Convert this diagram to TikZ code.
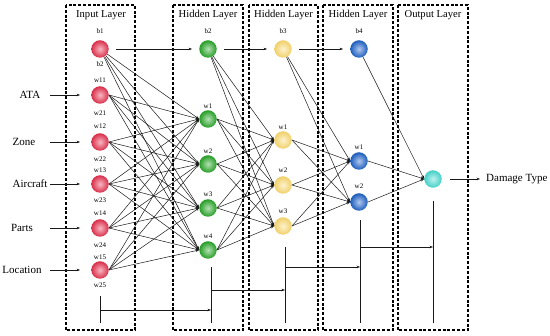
\documentclass[tikz,border=0pt]{standalone}
\usepackage{fontspec}
\setmainfont{Liberation Serif}
\usetikzlibrary{arrows.meta}
\definecolor{cred}{RGB}{235,50,80}
\definecolor{cgreen}{RGB}{40,170,40}
\definecolor{cyellow}{RGB}{248,215,110}
\definecolor{cblue}{RGB}{30,100,205}
\definecolor{ccyan}{RGB}{70,215,205}
\begin{document}
\begin{tikzpicture}[x=1pt,y=-1pt,
  neuron/.style={circle,minimum size=17.5pt,inner sep=0pt,shading=radial},
  nred/.style={neuron,inner color=cred!35!white,outer color=cred!92!black},
  ngreen/.style={neuron,inner color=cgreen!35!white,outer color=cgreen!92!black},
  nyellow/.style={neuron,inner color=cyellow!35!white,outer color=cyellow!97!black},
  nblue/.style={neuron,inner color=cblue!35!white,outer color=cblue!92!black},
  ncyan/.style={neuron,inner color=ccyan!35!white,outer color=ccyan!97!black},
  layerbox/.style={draw,line width=1.1pt,dash pattern=on 3pt off 1.8pt},
  conn/.style={-{Stealth[length=3.5pt,width=2.6pt]},line width=0.5pt,black!90},
  plain/.style={line width=0.5pt,black!90},
  wl/.style={font=\fontsize{7}{8}\selectfont,inner sep=0pt},
  tl/.style={font=\fontsize{10.6}{12}\selectfont,inner sep=0pt},
  il/.style={font=\fontsize{11}{12}\selectfont,inner sep=0pt}
]
\useasboundingbox (0,0) rectangle (550,336);
% layer boxes
\draw[layerbox] (66,5) rectangle (135,330);
\draw[layerbox] (173,5) rectangle (243,330);
\draw[layerbox] (249,5) rectangle (318,330);
\draw[layerbox] (323,5) rectangle (393,330);
\draw[layerbox] (398,5) rectangle (468,330);
\node[tl] (t0) at (101,15) {Input Layer};
\node[tl] (t1) at (208,15) {Hidden Layer};
\node[tl] (t2) at (283.5,15) {Hidden Layer};
\node[tl] (t3) at (358,15) {Hidden Layer};
\node[tl] (t4) at (433,15) {Output Layer};
% input neurons
\foreach \n/\y in {0/49,1/95,2/142,3/184,4/228,5/270}
  \node[nred] (i\n) at (100,\y) {};
% hidden 1
\foreach \n/\y in {0/49,1/119,2/164,3/208,4/250}
  \node[ngreen] (h\n) at (208,\y) {};
% hidden 2
\foreach \n/\y in {0/49,1/140,2/185,3/226}
  \node[nyellow] (g\n) at (283,\y) {};
% hidden 3
\foreach \n/\y in {0/49,1/161,2/202}
  \node[nblue] (k\n) at (359,\y) {};
% output
\node[ncyan] (o) at (433,179) {};
% small labels
\node[wl] (lb1) at (100,31) {b1};
\node[wl] (lb2) at (100,64) {b2};
\node[wl] (lw11) at (100,80) {w11};
\node[wl] (lw21) at (100,113) {w21};
\node[wl] (lw12) at (100,126) {w12};
\node[wl] (lw22) at (100,159) {w22};
\node[wl] (lw13) at (100,170) {w13};
\node[wl] (lw23) at (100,200) {w23};
\node[wl] (lw14) at (100,213) {w14};
\node[wl] (lw24) at (100,245) {w24};
\node[wl] (lw15) at (100,257) {w15};
\node[wl] (lw25) at (100,285) {w25};
\node[wl] (hb) at (208,31) {b2};
\node[wl] (hw1) at (208,106) {w1};
\node[wl] (hw2) at (208,151) {w2};
\node[wl] (hw3) at (208,194) {w3};
\node[wl] (hw4) at (208,236) {w4};
\node[wl] (gb) at (283,31) {b3};
\node[wl] (gw1) at (283,127) {w1};
\node[wl] (gw2) at (283,170) {w2};
\node[wl] (gw3) at (283,211) {w3};
\node[wl] (kb) at (359,31) {b4};
\node[wl] (kw1) at (359,147) {w1};
\node[wl] (kw2) at (359,186) {w2};
% input names
\node[il] (ata) at (30,95) {ATA};
\node[il] (zone) at (24,142) {Zone};
\node[il] (air) at (30,184) {Aircraft};
\node[il] (parts) at (22,228) {Parts};
\node[il] (loc) at (22,270) {Location};
\foreach \n in {1,...,5}
  \draw[conn] ([xshift=-41pt]i\n.west) -- ([xshift=-11pt]i\n.west);
% bias arrows
\draw[conn,shorten <=7pt,shorten >=7pt] (i0.east) -- (h0.west);
\draw[conn,shorten <=7pt,shorten >=7pt] (h0.east) -- (g0.west);
\draw[conn,shorten <=7pt,shorten >=7pt] (g0.east) -- (k0.west);
% weights
\foreach \d in {1,...,4}{
  \draw[conn] (i0) -- (h\d.west);
  \foreach \s in {1,...,5} \draw[conn] (i\s.east) -- (h\d.west);
}
\foreach \d in {1,...,3}{
  \draw[conn] (h0) -- (g\d.west);
  \foreach \s in {1,...,4} \draw[conn] (h\s.east) -- (g\d.west);
}
\foreach \d in {1,2}{
  \draw[conn] (g0) -- (k\d.west);
  \foreach \s in {1,...,3} \draw[conn] (g\s.east) -- (k\d.west);
}
\draw[conn] (k0) -- (o.west);
\draw[conn] (k1.east) -- (o.west);
\draw[conn] (k2.east) -- (o.west);
% output
\node[il,anchor=west] (dt) at (486,179) {Damage Type};
\draw[conn] ([xshift=8pt]o.east) -- ([xshift=-6pt]dt.west);
% bottom flow
\coordinate (v0a) at (100,296); \coordinate (v0b) at (100,323);
\coordinate (v1a) at (211,267); \coordinate (v1b) at (211,323);
\coordinate (v2a) at (285,247); \coordinate (v2b) at (285,323);
\coordinate (v3a) at (360,220); \coordinate (v3b) at (360,323);
\coordinate (v4a) at (433,201); \coordinate (v4b) at (433,323);
\draw[plain] (v0a) -- (v0b);
\draw[plain] (v1a) -- (v1b);
\draw[plain] (v2a) -- (v2b);
\draw[plain] (v3a) -- (v3b);
\draw[plain] (v4a) -- (v4b);
\coordinate (f0) at (100,310); \coordinate (e0) at (211,310);
\coordinate (f1) at (211,290); \coordinate (e1) at (285,290);
\coordinate (f2) at (285,267); \coordinate (e2) at (360,267);
\coordinate (f3) at (360,247); \coordinate (e3) at (433,247);
\draw[conn] (f0) -- (e0);
\draw[conn] (f1) -- (e1);
\draw[conn] (f2) -- (e2);
\draw[conn] (f3) -- (e3);
\end{tikzpicture}
\end{document}
